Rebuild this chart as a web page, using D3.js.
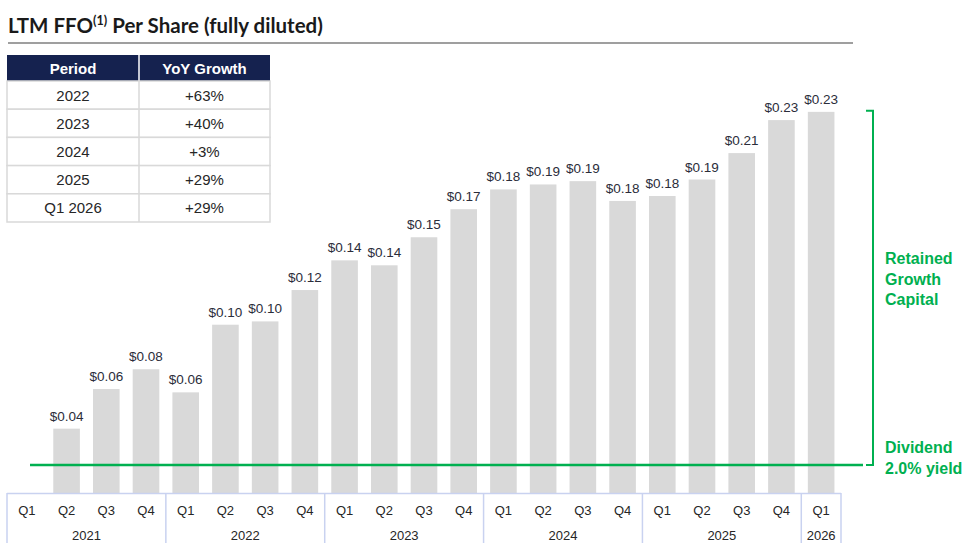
<!DOCTYPE html>
<html>
<head>
<meta charset="utf-8">
<script src="https://cdn.jsdelivr.net/npm/d3@7"></script>
<style>
  body { margin: 0; background: #fff; }
  svg { display: block; }
</style>
</head>
<body>
<div id="chart"></div>
<script>
// quarters on the x axis (Q1 2021 has no value)
const quarters = ["Q1","Q2","Q3","Q4","Q1","Q2","Q3","Q4","Q1","Q2","Q3","Q4",
                  "Q1","Q2","Q3","Q4","Q1","Q2","Q3","Q4","Q1"];
const quarterYears = ["2021","2021","2021","2021","2022","2022","2022","2022",
                      "2023","2023","2023","2023","2024","2024","2024","2024",
                      "2025","2025","2025","2025","2026"];
const ffo = [null, 0.039, 0.063, 0.075, 0.061, 0.102, 0.104, 0.123, 0.141, 0.138,
             0.155, 0.172, 0.184, 0.187, 0.189, 0.177, 0.180, 0.190, 0.206, 0.226, 0.231];
const ffoLabels = ["", "$0.04", "$0.06", "$0.08", "$0.06", "$0.10", "$0.10", "$0.12",
                   "$0.14", "$0.14", "$0.15", "$0.17", "$0.18", "$0.19", "$0.19",
                   "$0.18", "$0.18", "$0.19", "$0.21", "$0.23", "$0.23"];
const dividendLevel = 0.017;

// growth table
const tablePeriods = ["2022", "2023", "2024", "2025", "Q1 2026"];
const tableGrowth = ["+63%", "+40%", "+3%", "+29%", "+29%"];

const W = 975, H = 553;
const green = "#00b050";

const svg = d3.select("#chart").append("svg")
  .attr("width", W)
  .attr("height", H);

svg.append("rect").attr("width", W).attr("height", H).attr("fill", "#fff");

const keys = quarters.map((q, i) => i);
const x = d3.scaleBand().domain(keys).range([7, 841])
  .paddingInner(0.33).paddingOuter(0.165);
const y = d3.scaleLinear().domain([0, 0.24]).range([493, 97]);

// title
const title = svg.append("text")
  .attr("x", 8)
  .attr("y", 33)
  .style("font", "bold 20.5px Lato, sans-serif")
  .attr("fill", "#1a1a1a");
title.append("tspan").text("LTM FFO");
title.append("tspan").attr("dy", -8).style("font-size", "12.5px").text("(1)");
title.append("tspan").attr("dy", 8).text(" Per Share (fully diluted)");

svg.append("line")
  .attr("x1", 8).attr("x2", 853)
  .attr("y1", 43).attr("y2", 43)
  .attr("stroke", "#7f7f7f")
  .attr("stroke-width", 1.5);

// bars
const barData = keys.filter(i => ffo[i] != null);
svg.append("g")
  .selectAll("rect")
  .data(barData)
  .join("rect")
  .attr("x", i => x(i))
  .attr("y", i => y(ffo[i]))
  .attr("width", x.bandwidth())
  .attr("height", i => y(0) - y(ffo[i]))
  .attr("fill", "#d9d9d9");

svg.append("g")
  .selectAll("text")
  .data(barData)
  .join("text")
  .attr("x", i => x(i) + x.bandwidth() / 2)
  .attr("y", i => y(ffo[i]) - 8)
  .attr("text-anchor", "middle")
  .style("font", "13.5px 'Liberation Sans', Arial, sans-serif")
  .attr("fill", "#2b2d3a")
  .text(i => ffoLabels[i]);

// dividend line + bracket
const yDiv = y(dividendLevel);
const xEnd = x.range()[1];
svg.append("line")
  .attr("x1", 30).attr("x2", xEnd + 22)
  .attr("y1", yDiv).attr("y2", yDiv)
  .attr("stroke", green)
  .attr("stroke-width", 2.5);

const yTop = y(ffo[ffo.length - 1]) - 1;
svg.append("path")
  .attr("d", `M${xEnd + 25},${yTop} H${xEnd + 32} V${yDiv} H${xEnd + 25}`)
  .attr("fill", "none")
  .attr("stroke", green)
  .attr("stroke-width", 2);

const retained = svg.append("text")
  .attr("x", xEnd + 44)
  .attr("y", 264)
  .style("font", "bold 16px 'Liberation Sans', Arial, sans-serif")
  .attr("fill", green);
["Retained", "Growth", "Capital"].forEach((t, i) => {
  retained.append("tspan").attr("x", xEnd + 44).attr("dy", i ? 20.5 : 0).text(t);
});

const dividend = svg.append("text")
  .attr("x", xEnd + 44)
  .attr("y", 453)
  .style("font", "bold 16px 'Liberation Sans', Arial, sans-serif")
  .attr("fill", green);
["Dividend", "2.0% yield"].forEach((t, i) => {
  dividend.append("tspan").attr("x", xEnd + 44).attr("dy", i ? 20.5 : 0).text(t);
});

// x axis grid box
const axisColor = "#c9d2f0";
const axisG = svg.append("g");
axisG.append("line")
  .attr("x1", x.range()[0]).attr("x2", xEnd)
  .attr("y1", 493.5).attr("y2", 493.5)
  .attr("stroke", axisColor).attr("stroke-width", 1.5);

const yearNames = Array.from(new Set(quarterYears));
const yearSpans = yearNames.map(yr => {
  const idx = keys.filter(i => quarterYears[i] === yr);
  const x0 = x(idx[0]) - x.step() * x.paddingInner() / 2;
  const x1 = x(idx[idx.length - 1]) + x.bandwidth() + x.step() * x.paddingInner() / 2;
  return { yr, x0, x1 };
});

axisG.selectAll("line.div")
  .data(yearSpans.map(d => d.x0).concat([xEnd]))
  .join("line")
  .attr("class", "div")
  .attr("x1", d => d).attr("x2", d => d)
  .attr("y1", 493).attr("y2", 543)
  .attr("stroke", axisColor).attr("stroke-width", 1.5);

axisG.selectAll("text.q")
  .data(keys)
  .join("text")
  .attr("class", "q")
  .attr("x", i => x(i) + x.bandwidth() / 2)
  .attr("y", 515)
  .attr("text-anchor", "middle")
  .style("font", "13px 'Liberation Sans', Arial, sans-serif")
  .attr("fill", "#262626")
  .text(i => quarters[i]);

axisG.selectAll("text.yr")
  .data(yearSpans)
  .join("text")
  .attr("class", "yr")
  .attr("x", d => (d.x0 + d.x1) / 2)
  .attr("y", 540)
  .attr("text-anchor", "middle")
  .style("font", "13px 'Liberation Sans', Arial, sans-serif")
  .attr("fill", "#262626")
  .text(d => d.yr);

// table
const tbl = svg.append("g");
const colX = [7, 139, 270];
const headH = 26, rowH = 28.2, tableTop = 55;
tbl.append("rect")
  .attr("x", colX[0]).attr("y", tableTop)
  .attr("width", colX[2] - colX[0]).attr("height", headH)
  .attr("fill", "#15224f");
tbl.append("line")
  .attr("x1", colX[1]).attr("x2", colX[1])
  .attr("y1", tableTop).attr("y2", tableTop + headH)
  .attr("stroke", "#fff").attr("stroke-width", 1.5);
["Period", "YoY Growth"].forEach((h, c) => {
  tbl.append("text")
    .attr("x", (colX[c] + colX[c + 1]) / 2)
    .attr("y", tableTop + headH / 2 + 5.5)
    .attr("text-anchor", "middle")
    .style("font", "bold 15px 'Liberation Sans', Arial, sans-serif")
    .attr("fill", "#fff")
    .text(h);
});

const rows = tablePeriods.map((p, i) => [p, tableGrowth[i]]);
const rowG = tbl.selectAll("g.row")
  .data(rows)
  .join("g")
  .attr("class", "row")
  .attr("transform", (d, i) => `translate(0,${tableTop + headH + i * rowH})`);
rowG.append("rect")
  .attr("x", colX[0]).attr("width", colX[2] - colX[0])
  .attr("height", rowH)
  .attr("fill", "#fff")
  .attr("stroke", "#d9d9d9").attr("stroke-width", 1.5);
rowG.append("line")
  .attr("x1", colX[1]).attr("x2", colX[1])
  .attr("y1", 0).attr("y2", rowH)
  .attr("stroke", "#d9d9d9").attr("stroke-width", 1.5);
rowG.selectAll("text")
  .data(d => d)
  .join("text")
  .attr("x", (d, c) => (colX[c] + colX[c + 1]) / 2)
  .attr("y", rowH / 2 + 5.5)
  .attr("text-anchor", "middle")
  .style("font", "15px 'Liberation Sans', Arial, sans-serif")
  .attr("fill", "#262626")
  .text(d => d);
</script>
</body>
</html>
